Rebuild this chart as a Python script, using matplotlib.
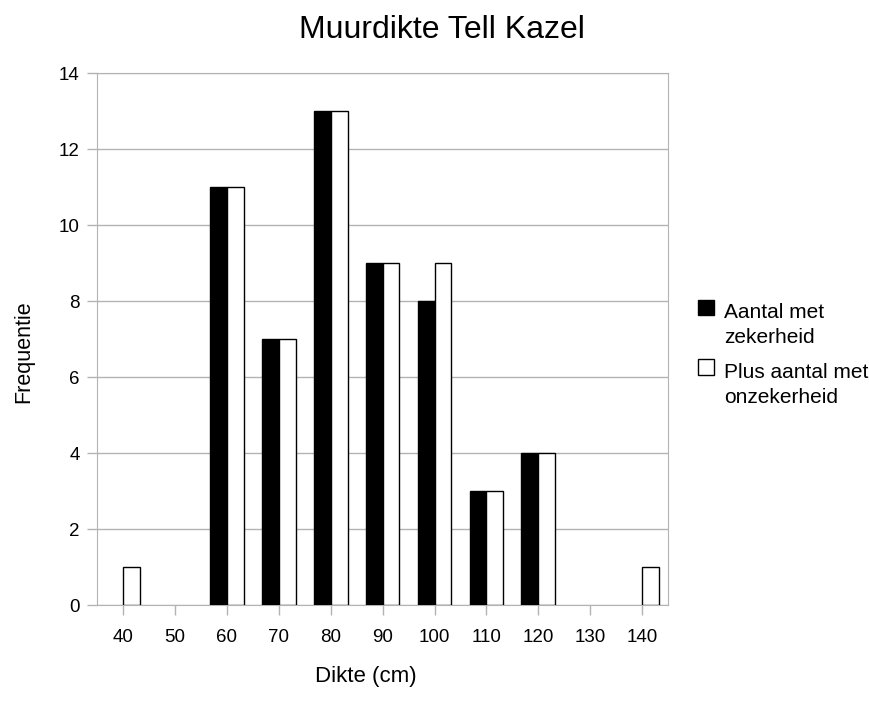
import numpy as np
import matplotlib.pyplot as plt

plt.rcParams['font.family'] = ['Liberation Sans', 'DejaVu Sans']

dikte = ['40', '50', '60', '70', '80', '90', '100', '110', '120', '130', '140']
zeker = [0, 0, 11, 7, 13, 9, 8, 3, 4, 0, 0]
plus_onzeker = [1, 0, 11, 7, 13, 9, 9, 3, 4, 0, 1]

fig = plt.figure(figsize=(8.7, 7.02), dpi=100)
ax = fig.add_axes([0.1115, 0.138, 0.6565, 0.758])

x = np.arange(len(dikte))
w = 0.325
# empty classes get no outline
rand_zeker = ['black' if v else 'none' for v in zeker]
rand_plus = ['black' if v else 'none' for v in plus_onzeker]
ax.bar(x - w / 2, zeker, w, color='black', edgecolor=rand_zeker, linewidth=1,
       label='Aantal met\nzekerheid', zorder=3)
ax.bar(x + w / 2, plus_onzeker, w, color='white', edgecolor=rand_plus, linewidth=1,
       label='Plus aantal met\nonzekerheid', zorder=3)

ax.set_xlim(-0.5, len(dikte) - 0.5)
ax.set_ylim(0, 14)
ax.set_yticks(range(0, 15, 2))
ax.set_xticks(x)
ax.set_xticklabels(dikte)
ax.yaxis.grid(True, color='#b3b3b3', linewidth=1, zorder=0)
for s in ax.spines.values():
    s.set_color('#b3b3b3')
ax.tick_params(axis='both', colors='#b3b3b3', labelcolor='black', labelsize=13.5,
               length=7.5, width=1, pad=5)
ax.tick_params(axis='x', pad=10)

ax.set_title('Muurdikte Tell Kazel', fontsize=23, pad=25, x=0.604)
ax.set_xlabel('Dikte (cm)', fontsize=16, labelpad=14, x=0.47)
ax.set_ylabel('Frequentie', fontsize=15.5, labelpad=18, y=0.477)

leg = ax.legend(loc='center left', bbox_to_anchor=(1.0195, 0.47), frameon=False,
                fontsize=15, handlelength=0.77, handleheight=0.77,
                handletextpad=0.48, labelspacing=0.75)
leg.get_patches()[0].set_edgecolor('black')
for t in leg.get_texts():
    t.set_linespacing(1.4)
# put each square beside the first line of its label
for p in leg.get_patches():
    p.set_y(p.get_y() + 13)

fig.savefig('out.png', dpi=100)
